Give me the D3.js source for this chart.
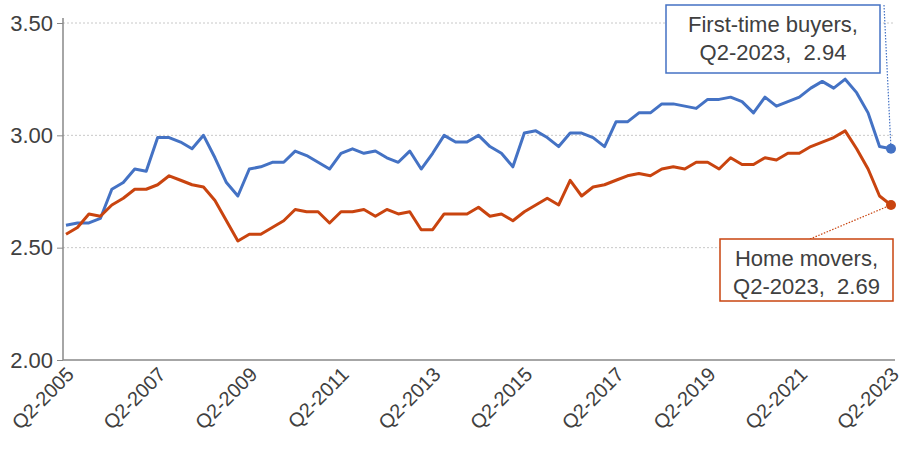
<!DOCTYPE html>
<html><head><meta charset="utf-8">
<script src="https://cdn.jsdelivr.net/npm/d3@7"></script>
<style>body{margin:0;background:#fff;font-family:"Liberation Sans",Arial,sans-serif}</style>
</head><body><svg id="chart" width="905" height="456"></svg>
<script>
var quarters = [];
for (var yr = 2005; yr <= 2023; yr++) {
    for (var q = 1; q <= 4; q++) {
        if ((yr === 2005 && q < 2) || (yr === 2023 && q > 2)) continue;
        quarters.push("Q" + q + "-" + yr);
    }
}
var firstTime = [2.60,2.61,2.61,2.63,2.76,2.79,2.85,2.84,2.99,2.99,2.97,2.94,3.00,2.90,2.79,2.73,
    2.85,2.86,2.88,2.88,2.93,2.91,2.88,2.85,2.92,2.94,2.92,2.93,2.90,2.88,2.93,2.85,
    2.92,3.00,2.97,2.97,3.00,2.95,2.92,2.86,3.01,3.02,2.99,2.95,3.01,3.01,2.99,2.95,
    3.06,3.06,3.10,3.10,3.14,3.14,3.13,3.12,3.16,3.16,3.17,3.15,3.10,3.17,3.13,3.15,
    3.17,3.21,3.24,3.21,3.25,3.19,3.10,2.95,2.94];
var homeMovers = [2.56,2.59,2.65,2.64,2.69,2.72,2.76,2.76,2.78,2.82,2.80,2.78,2.77,2.71,2.62,2.53,
    2.56,2.56,2.59,2.62,2.67,2.66,2.66,2.61,2.66,2.66,2.67,2.64,2.67,2.65,2.66,2.58,
    2.58,2.65,2.65,2.65,2.68,2.64,2.65,2.62,2.66,2.69,2.72,2.69,2.80,2.73,2.77,2.78,
    2.80,2.82,2.83,2.82,2.85,2.86,2.85,2.88,2.88,2.85,2.90,2.87,2.87,2.90,2.89,2.92,
    2.92,2.95,2.97,2.99,3.02,2.94,2.85,2.73,2.69];
var yTicks = [2.00, 2.50, 3.00, 3.50];

var svg = d3.select("#chart");
var x = d3.scalePoint().domain(quarters).range([66, 891]);
var y = d3.scaleLinear().domain([2, 3.5]).range([360, 23]);
var blue = "#4472C4", red = "#C9440F", txt = "#404040";

// gridlines
svg.selectAll(".grid").data(yTicks.slice(1)).enter().append("line")
    .attr("x1", 63).attr("x2", 895).attr("y1", y).attr("y2", y)
    .attr("stroke", "#c8c8c8").attr("stroke-dasharray", "2,2");

var yAxis = svg.append("g").attr("transform", "translate(63,0)")
    .call(d3.axisLeft(y).tickValues(yTicks).tickFormat(d3.format(".2f")).tickSize(6).tickPadding(4));
yAxis.select(".domain").attr("stroke", "#888").attr("stroke-width", 1.5).attr("d", "M0,18V360");
yAxis.selectAll("line").attr("stroke", "#888");
yAxis.selectAll("text").attr("font-size", 22).attr("fill", txt).attr("font-family", "Liberation Sans, Arial");

var xAxis = svg.append("g").attr("transform", "translate(0,360)")
    .call(d3.axisBottom(x).tickValues(quarters.filter(function (d, i) { return i % 8 === 0; })).tickSize(0));
xAxis.select(".domain").attr("stroke", "#888").attr("stroke-width", 1.5).attr("d", "M63,0H895");
xAxis.selectAll(".tick text").each(function () {
    d3.select(this).attr("font-size", 20).attr("fill", txt).attr("font-family", "Liberation Sans, Arial")
        .attr("text-anchor", "end").attr("dy", null).attr("y", 0).attr("x", 0)
        .attr("dominant-baseline", "middle").attr("transform", "translate(5,12) rotate(-45)");
});

var line = d3.line().x(function (d, i) { return x(quarters[i]); }).y(function (d) { return y(d); });
[[firstTime, blue], [homeMovers, red]].forEach(function (s) {
    svg.append("path").datum(s[0]).attr("d", line).attr("fill", "none")
        .attr("stroke", s[1]).attr("stroke-width", 3).attr("stroke-linejoin", "round");
    svg.append("circle").attr("cx", x(quarters[quarters.length - 1])).attr("cy", y(s[0][s[0].length - 1]))
        .attr("r", 5).attr("fill", s[1]);
});

var last = quarters[quarters.length - 1];
function callout(bx, by, bw, bh, lines, col, lx, ly, px, py) {
    svg.append("line").attr("x1", lx).attr("y1", ly).attr("x2", px).attr("y2", py)
        .attr("stroke", col).attr("stroke-dasharray", "1.5,1.5").attr("stroke-width", 1.2);
    svg.append("rect").attr("x", bx).attr("y", by).attr("width", bw).attr("height", bh)
        .attr("fill", "#fff").attr("stroke", col).attr("stroke-width", 1.5);
    lines.forEach(function (t, i) {
        svg.append("text").attr("x", bx + bw / 2).attr("y", by + 27 + i * 28).attr("text-anchor", "middle")
            .attr("font-size", 22).attr("fill", txt).attr("xml:space", "preserve").text(t);
    });
}
callout(666, 5, 214, 68, ["First-time buyers,", "Q2-2023,  " + firstTime[firstTime.length - 1].toFixed(2)], blue,
    884, 5, x(last), y(firstTime[firstTime.length - 1]));
callout(720, 239, 173, 62, ["Home movers,", "Q2-2023,  " + homeMovers[homeMovers.length - 1].toFixed(2)], red,
    810, 239, x(last), y(homeMovers[homeMovers.length - 1]));
</script></body></html>
